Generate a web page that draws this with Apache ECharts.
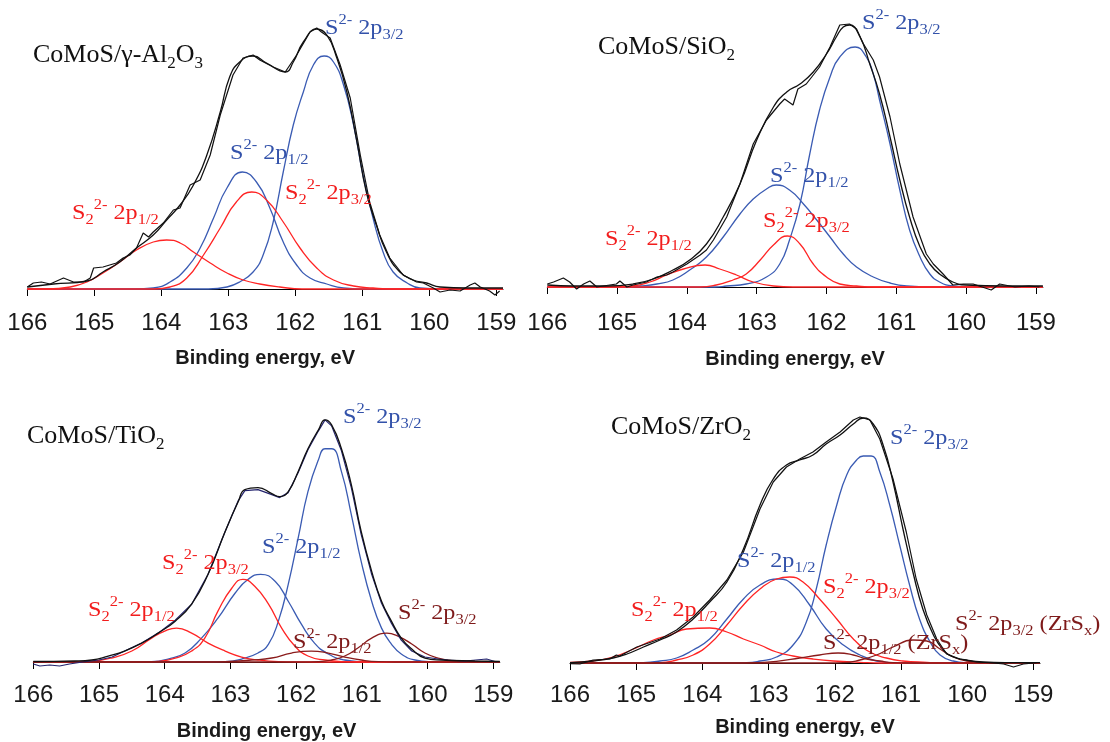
<!DOCTYPE html>
<html><head><meta charset="utf-8">
<script src="https://cdn.jsdelivr.net/npm/echarts@6/dist/echarts.min.js"></script>
<style>html,body{margin:0;padding:0;background:#fff}#c{width:1110px;height:742px}</style>
</head><body><div id="c"></div>
<script>
// ---------- data (binding energy eV, intensity a.u.) ----------
const tickValues = [166,165,164,163,162,161,160,159];
const axisTitle = 'Binding energy, eV';

// CoMoS/γ-Al2O3
const al_raw = [[166.0,2],[165.91,6],[165.79,7],[165.66,5],[165.46,11],[165.31,7],[165.16,7],[165.06,11],[165.01,21],[164.87,22],[164.77,24],[164.67,26],[164.57,31],[164.47,34],[164.37,41],[164.27,56],[164.19,52],[164.12,57],[163.97,66],[163.82,79],[163.72,81],[163.57,104],[163.42,109],[163.27,134],[163.12,174],[162.93,214],[162.78,231],[162.63,234],[162.53,229],[162.33,222],[162.15,217],[161.98,234],[161.78,257],[161.68,261],[161.61,257],[161.48,251],[161.33,224],[161.18,191],[161.03,134],[160.89,87],[160.74,54],[160.59,31],[160.39,14],[160.19,7],[160.09,6],[159.94,1],[159.84,-3],[159.69,-1],[159.54,-2],[159.39,4],[159.32,6],[159.24,2],[159.1,-2],[159.02,-6],[158.95,-2]];
const al_fit = [[166.0,2],[165.61,5],[165.11,8],[164.87,17],[164.62,27],[164.37,41],[164.12,54],[163.92,69],[163.72,84],[163.52,104],[163.32,134],[163.12,177],[162.98,212],[162.83,227],[162.63,233],[162.43,226],[162.15,217],[162.03,227],[161.88,247],[161.68,260],[161.53,254],[161.38,231],[161.23,197],[161.08,147],[160.94,97],[160.79,64],[160.64,37],[160.44,17],[160.24,9],[160.04,6],[159.84,2],[159.44,1],[158.9,1]];
const al_s2_32 = [[166,0],[163.3,0],[163.02,2],[162.83,7],[162.63,17],[162.48,34],[162.33,67],[162.18,117],[162.03,164],[161.88,197],[161.73,224],[161.57,233],[161.43,227],[161.28,204],[161.13,164],[160.99,114],[160.84,71],[160.69,37],[160.54,17],[160.33,6],[160.14,1],[159.8,0],[158.9,0]];
const al_s2_12 = [[166,0],[164.4,0],[164.12,1],[163.87,7],[163.62,21],[163.42,41],[163.22,71],[163.02,101],[162.79,117],[162.58,107],[162.38,81],[162.18,47],[161.98,24],[161.78,11],[161.53,5],[161.28,1],[161.0,0],[158.9,0]];
const al_s22_32 = [[166,0],[164.1,0],[163.87,2],[163.62,11],[163.37,34],[163.12,61],[162.88,87],[162.65,97],[162.43,89],[162.18,67],[161.93,41],[161.68,21],[161.43,9],[161.13,3],[160.84,1],[160.5,0],[158.9,0]];
const al_s22_12 = [[166,0],[165.7,0],[165.36,2],[165.11,7],[164.87,16],[164.62,27],[164.37,39],[164.12,47],[163.92,49],[163.72,46],[163.52,37],[163.27,26],[163.02,16],[162.78,9],[162.53,5],[162.23,2],[161.9,0],[158.9,0]];

// CoMoS/SiO2
const si_raw = [[166.0,3],[165.91,5],[165.77,9],[165.68,5],[165.58,-2],[165.48,3],[165.39,6],[165.29,0],[165.20,1],[165.01,3],[164.96,6],[164.86,0],[164.77,2],[164.58,5],[164.43,10],[164.29,12],[164.20,15],[164.00,23],[163.81,32],[163.72,37],[163.62,47],[163.43,70],[163.24,103],[163.05,143],[162.86,167],[162.67,183],[162.60,188],[162.48,182],[162.41,198],[162.29,203],[162.10,220],[161.95,240],[161.81,262],[161.67,263],[161.57,258],[161.47,243],[161.33,227],[161.24,210],[161.09,170],[160.95,123],[160.76,70],[160.57,33],[160.47,23],[160.33,13],[160.19,2],[160.04,3],[159.90,3],[159.64,-3],[159.52,3],[159.3,0],[159.1,1],[158.95,0]];
const si_fit = [[166.0,2],[165.63,1],[165.15,1],[164.77,3],[164.48,8],[164.20,17],[163.96,27],[163.72,43],[163.48,70],[163.24,103],[163.00,147],[162.76,180],[162.57,195],[162.38,203],[162.19,215],[162.00,233],[161.86,250],[161.76,260],[161.67,262],[161.52,250],[161.38,223],[161.24,193],[161.09,150],[160.95,107],[160.81,70],[160.66,40],[160.52,23],[160.38,13],[160.19,5],[160.00,2],[159.45,1],[158.9,1]];
const si_s2_32 = [[166,0],[163.6,0],[163.43,1],[163.15,3],[162.86,10],[162.67,23],[162.53,47],[162.38,83],[162.24,133],[162.10,177],[161.95,210],[161.81,230],[161.59,240],[161.43,230],[161.33,213],[161.24,187],[161.09,143],[160.95,97],[160.81,57],[160.66,30],[160.52,13],[160.38,5],[160.19,1],[159.9,0],[158.9,0]];
const si_s2_12 = [[166,0],[164.9,0],[164.67,1],[164.43,3],[164.20,7],[163.96,17],[163.72,30],[163.48,50],[163.24,73],[163.05,88],[162.86,98],[162.72,102],[162.53,97],[162.33,83],[162.14,67],[161.95,50],[161.76,33],[161.57,20],[161.33,10],[161.09,4],[160.85,1],[160.5,0],[158.9,0]];
const si_s22_32 = [[166,0],[163.81,0],[163.58,2],[163.34,7],[163.15,13],[162.95,27],[162.76,42],[162.56,51],[162.38,43],[162.19,23],[162.00,10],[161.81,3],[161.57,1],[161.3,0],[158.9,0]];
const si_s22_12 = [[166,0],[165.05,0],[164.77,1],[164.53,5],[164.29,12],[164.05,18],[163.74,22],[163.53,18],[163.29,12],[163.05,5],[162.76,1],[162.48,0],[158.9,0]];

// CoMoS/TiO2
const ti_raw = [[166.0,-2],[165.9,-4],[165.75,-3],[165.6,-4],[165.45,-2],[165.25,0],[165.0,2],[164.8,5],[164.61,11],[164.35,19],[164.10,29],[163.84,42],[163.59,58],[163.34,88],[163.08,131],[162.88,162],[162.78,172],[162.58,173],[162.37,168],[162.25,165],[162.12,170],[161.97,190],[161.82,213],[161.66,232],[161.56,243],[161.46,237],[161.31,212],[161.16,175],[161.01,128],[160.85,88],[160.70,59],[160.55,39],[160.40,22],[160.24,11],[160.04,5],[159.84,3],[159.69,2],[159.43,1],[159.1,3],[158.95,0]];
const ti_fit = [[166.0,0.5],[165.37,1],[165.11,2],[164.86,6],[164.61,11],[164.35,19],[164.10,29],[163.84,41],[163.59,58],[163.34,88],[163.08,131],[162.88,161],[162.78,173],[162.58,175],[162.37,169],[162.25,166],[162.12,171],[161.97,191],[161.82,214],[161.66,233],[161.56,243],[161.46,238],[161.31,214],[161.16,178],[161.01,131],[160.85,91],[160.70,61],[160.55,41],[160.40,24],[160.24,13],[160.04,4],[159.79,2],[159.28,1],[158.9,0.5]];
const ti_s2_32 = [[166,0],[163.3,0],[163.08,0.3],[162.83,3],[162.58,9],[162.42,18],[162.27,41],[162.12,78],[161.97,124],[161.82,171],[161.66,203],[161.56,214],[161.46,214],[161.31,191],[161.16,148],[161.01,101],[160.85,61],[160.70,34],[160.55,18],[160.40,8],[160.19,2],[159.94,0.3],[159.6,0],[158.9,0]];
const ti_s2_12 = [[166,0],[164.4,0],[164.20,0.3],[163.95,3],[163.69,9],[163.44,24],[163.19,44],[162.93,69],[162.73,83],[162.54,88],[162.32,81],[162.12,61],[161.92,38],[161.72,19],[161.51,8],[161.26,2],[161.01,0.3],[160.7,0],[158.9,0]];
const ti_s22_32 = [[166,0],[164.3,0],[164.10,0.7],[163.84,4],[163.59,11],[163.39,24],[163.19,51],[162.98,74],[162.81,83],[162.63,76],[162.42,58],[162.22,34],[162.02,16],[161.82,6],[161.56,2],[161.26,0.3],[161.0,0],[158.9,0]];
const ti_s22_12 = [[166,0],[165.4,0],[165.11,0.7],[164.81,4],[164.50,11],[164.20,24],[164.00,31],[163.82,34],[163.59,29],[163.34,19],[163.08,11],[162.83,5],[162.58,2],[162.27,0.3],[162.0,0],[158.9,0]];
const ti_b_12 = [[166,0],[163.3,0],[163.08,0.3],[162.68,2],[162.37,4],[162.07,9],[161.77,11],[161.51,9],[161.26,5],[161.01,2],[160.75,0.3],[160.5,0],[158.9,0]];
const ti_b_32 = [[166,0],[161.9,0],[161.66,0.3],[161.46,2],[161.26,6],[161.06,14],[160.85,24],[160.62,29],[160.45,26],[160.24,18],[160.04,9],[159.84,4],[159.59,1],[159.38,0.3],[159.1,0],[158.9,0]];

// CoMoS/ZrO2
const zr_raw = [[166.0,-0.7],[165.85,-1],[165.65,3],[165.40,4],[165.30,8],[165.25,7],[164.99,16],[164.64,24],[164.39,33],[164.14,46],[163.89,63],[163.63,83],[163.38,111],[163.13,154],[162.93,181],[162.73,196],[162.53,204],[162.33,211],[162.13,221],[161.92,231],[161.72,243],[161.62,246],[161.47,243],[161.32,224],[161.12,184],[160.92,131],[160.77,84],[160.61,48],[160.46,24],[160.31,9],[160.11,4],[159.86,1],[159.6,0],[159.45,-1],[159.3,-4],[159.15,-1],[158.95,0.3]];
const zr_fit = [[166.0,0.3],[165.65,2],[165.35,5],[165.14,9],[164.89,16],[164.64,23],[164.39,31],[164.14,44],[163.89,61],[163.63,81],[163.38,114],[163.13,158],[162.93,184],[162.73,198],[162.53,203],[162.33,208],[162.13,219],[161.92,228],[161.72,239],[161.57,245],[161.42,239],[161.27,218],[161.12,181],[160.97,134],[160.82,91],[160.67,54],[160.51,28],[160.36,13],[160.21,6],[160.01,3],[159.76,1],[159.43,0.3],[158.9,0.3]];
const zr_s2_32 = [[166,0],[163.6,0],[163.33,0.3],[163.13,2],[162.88,6],[162.63,18],[162.43,41],[162.28,74],[162.13,118],[161.97,158],[161.82,188],[161.67,203],[161.57,207],[161.45,207],[161.32,191],[161.17,158],[161.02,118],[160.87,78],[160.72,44],[160.56,21],[160.41,8],[160.21,2],[160.01,0.3],[159.7,0],[158.9,0]];
const zr_s2_12 = [[166,0],[165.1,0],[164.89,0.3],[164.64,2],[164.39,5],[164.14,13],[163.89,24],[163.63,44],[163.38,64],[163.13,78],[162.85,84],[162.63,78],[162.38,58],[162.13,34],[161.87,18],[161.62,8],[161.37,2],[161.12,0.3],[160.9,0],[158.9,0]];
const zr_s22_32 = [[166,0],[164.9,0],[164.64,0.3],[164.39,3],[164.14,8],[163.89,19],[163.63,38],[163.38,58],[163.13,74],[162.88,84],[162.68,86],[162.48,81],[162.23,64],[161.97,44],[161.72,24],[161.47,11],[161.22,5],[160.97,2],[160.61,0.7],[160.3,0],[158.9,0]];
const zr_s22_12 = [[166,0.7],[165.65,2],[165.35,6],[165.04,14],[164.74,23],[164.49,28],[164.24,34],[163.89,35],[163.63,31],[163.38,24],[163.13,18],[162.88,11],[162.63,7],[162.33,4],[162.02,2],[161.62,0.7],[161.3,0],[158.9,0]];
const zr_b_12 = [[166,0],[163.5,0],[163.23,0.3],[162.88,1.7],[162.53,5],[162.23,8],[161.95,10],[161.72,8],[161.52,4],[161.32,2],[161.12,0.3],[160.9,0],[158.9,0]];
const zr_b_32 = [[166,0],[162.1,0],[161.87,0.3],[161.62,3],[161.37,8],[161.12,16],[160.82,23],[160.61,22],[160.41,14],[160.21,6],[160.01,2],[159.76,0.3],[159.5,0],[158.9,0]];

// ---------- text ----------
const T_S2_32 = '{m|S}{sup|2-}{m| 2p}{sub|3/2}';
const T_S2_12 = '{m|S}{sup|2-}{m| 2p}{sub|1/2}';
const T_S22_32 = '{m|S}{sub|2}{sup|2-}{m| 2p}{sub|3/2}';
const T_S22_12 = '{m|S}{sub|2}{sup|2-}{m| 2p}{sub|1/2}';
const T_ZR_12 = '{m|S}{sup|2-}{m| 2p}{sub|1/2}{m| (ZrS}{sub|x}{m|)}';
const T_ZR_32 = '{m|S}{sup|2-}{m| 2p}{sub|3/2}{m| (ZrS}{sub|x}{m|)}';
const titles = ['{m|CoMoS/γ-Al}{sub|2}{m|O}{sub|3}', '{m|CoMoS/SiO}{sub|2}', '{m|CoMoS/TiO}{sub|2}', '{m|CoMoS/ZrO}{sub|2}'];

// ---------- styling / layout ----------
const BLUE = '#3a5bb3', RED = '#ff2424', DRED = '#8a1b1b', BLACK = '#111111', NAVY = '#24246e';
const BLUE_T = '#3352aa', RED_T = '#f21d1d', DRED_T = '#7e1a1a';
const serif = "'Liberation Serif','Times New Roman',serif";
const sans = "'Liberation Sans',Arial,sans-serif";

const grids = [
  {left: 27.3, top: 9, width: 475.7, height: 280},
  {left: 547.3, top: 7, width: 495.6, height: 280},
  {left: 33.3, top: 383, width: 466.5, height: 280},
  {left: 570, top: 383, width: 470, height: 280}
];
const labelMargins = [22, 24, 21, 20];
const nameGaps = [59, 62, 59, 54];

const panelSeries = [
  [[al_s2_32,BLUE],[al_s2_12,BLUE],[al_s22_32,RED],[al_s22_12,RED],[al_raw,BLACK,true],[al_fit,BLACK]],
  [[si_s2_32,BLUE],[si_s2_12,BLUE],[si_s22_32,RED],[si_s22_12,RED],[si_raw,BLACK,true],[si_fit,BLACK]],
  [[ti_s2_32,BLUE],[ti_s2_12,BLUE],[ti_s22_32,RED],[ti_s22_12,RED],[ti_b_12,DRED],[ti_b_32,DRED],[ti_raw,NAVY,true],[ti_fit,BLACK]],
  [[zr_s2_32,BLUE],[zr_s2_12,BLUE],[zr_s22_32,RED],[zr_s22_12,RED],[zr_b_12,DRED],[zr_b_32,DRED],[zr_raw,BLACK,true],[zr_fit,BLACK]]
];

function rich(base, small, subLH) {
  return {
    m: {fontFamily: serif, fontSize: base, lineHeight: base + 8, verticalAlign: 'middle'},
    sup: {fontFamily: serif, fontSize: small, lineHeight: small + 2, verticalAlign: 'top'},
    sub: {fontFamily: serif, fontSize: small, lineHeight: subLH, verticalAlign: 'bottom'}
  };
}
const labelRich = rich(22, 15, 15);
const titleRich = rich(26, 17, 18);

// [text, left, top, colour, rich, horizontal stretch]
const textItems = [
  [titles[0], 33, 38, BLACK, titleRich, 1],
  [T_S2_32, 325, 13, BLUE_T, labelRich, 1.1],
  [T_S2_12, 230, 138, BLUE_T, labelRich, 1.1],
  [T_S22_32, 285, 178, RED_T, labelRich, 1.1],
  [T_S22_12, 72, 198, RED_T, labelRich, 1.1],
  [titles[1], 598, 30, BLACK, titleRich, 1],
  [T_S2_32, 862, 8, BLUE_T, labelRich, 1.1],
  [T_S2_12, 770, 161, BLUE_T, labelRich, 1.1],
  [T_S22_32, 763, 206, RED_T, labelRich, 1.1],
  [T_S22_12, 605, 224, RED_T, labelRich, 1.1],
  [titles[2], 27, 419, BLACK, titleRich, 1],
  [T_S2_32, 343, 402, BLUE_T, labelRich, 1.1],
  [T_S2_12, 262, 532, BLUE_T, labelRich, 1.1],
  [T_S22_32, 162, 548, RED_T, labelRich, 1.1],
  [T_S22_12, 88, 595, RED_T, labelRich, 1.1],
  [T_S2_12, 293, 627, DRED_T, labelRich, 1.1],
  [T_S2_32, 398, 598, DRED_T, labelRich, 1.1],
  [titles[3], 611, 410, BLACK, titleRich, 1],
  [T_S2_32, 890, 423, BLUE_T, labelRich, 1.1],
  [T_S2_12, 737, 546, BLUE_T, labelRich, 1.1],
  [T_S22_32, 823, 572, RED_T, labelRich, 1.1],
  [T_S22_12, 631, 595, RED_T, labelRich, 1.1],
  [T_ZR_12, 823, 628, DRED_T, labelRich, 1.1],
  [T_ZR_32, 955, 609, DRED_T, labelRich, 1.1]
];

const xAxes = grids.map((g, i) => ({
  type: 'value', gridIndex: i, min: 158.9, max: 166, inverse: true,
  axisLine: {show: true, onZero: false, lineStyle: {color: '#000', width: 1}},
  axisTick: {show: true, customValues: tickValues, length: 7, inside: false, lineStyle: {color: '#000', width: 1}},
  axisLabel: {show: true, customValues: tickValues, margin: labelMargins[i], fontSize: 24, fontFamily: sans, color: '#1a1a1a'},
  splitLine: {show: false},
  name: axisTitle, nameLocation: 'middle', nameGap: nameGaps[i],
  nameTextStyle: {fontSize: 20, fontWeight: 'bold', fontFamily: sans, color: '#1a1a1a'}
}));
const yAxes = grids.map((g, i) => ({type: 'value', gridIndex: i, min: 0, max: 280, show: false}));

const series = [];
panelSeries.forEach((list, i) => {
  list.forEach(([data, color, raw]) => {
    series.push({
      type: 'line', xAxisIndex: i, yAxisIndex: i, data: data,
      showSymbol: false, symbol: 'none', clip: false, silent: true,
      smooth: raw ? false : 0.5,
      lineStyle: {color: color, width: raw ? 1.2 : 1.3},
      animation: false
    });
  });
});

const graphic = textItems.map(([t, x, y, c, r, sx]) => ({
  type: 'text', x: x, y: y, scaleX: sx, silent: true, z: 10,
  style: {text: t, rich: r, fill: c, align: 'left', verticalAlign: 'top', fontFamily: serif}
}));

const chart = echarts.init(document.getElementById('c'), null, {renderer: 'canvas', devicePixelRatio: 1});
chart.setOption({
  animation: false,
  backgroundColor: '#ffffff',
  grid: grids,
  xAxis: xAxes,
  yAxis: yAxes,
  series: series,
  graphic: graphic
});
</script>
</body></html>
